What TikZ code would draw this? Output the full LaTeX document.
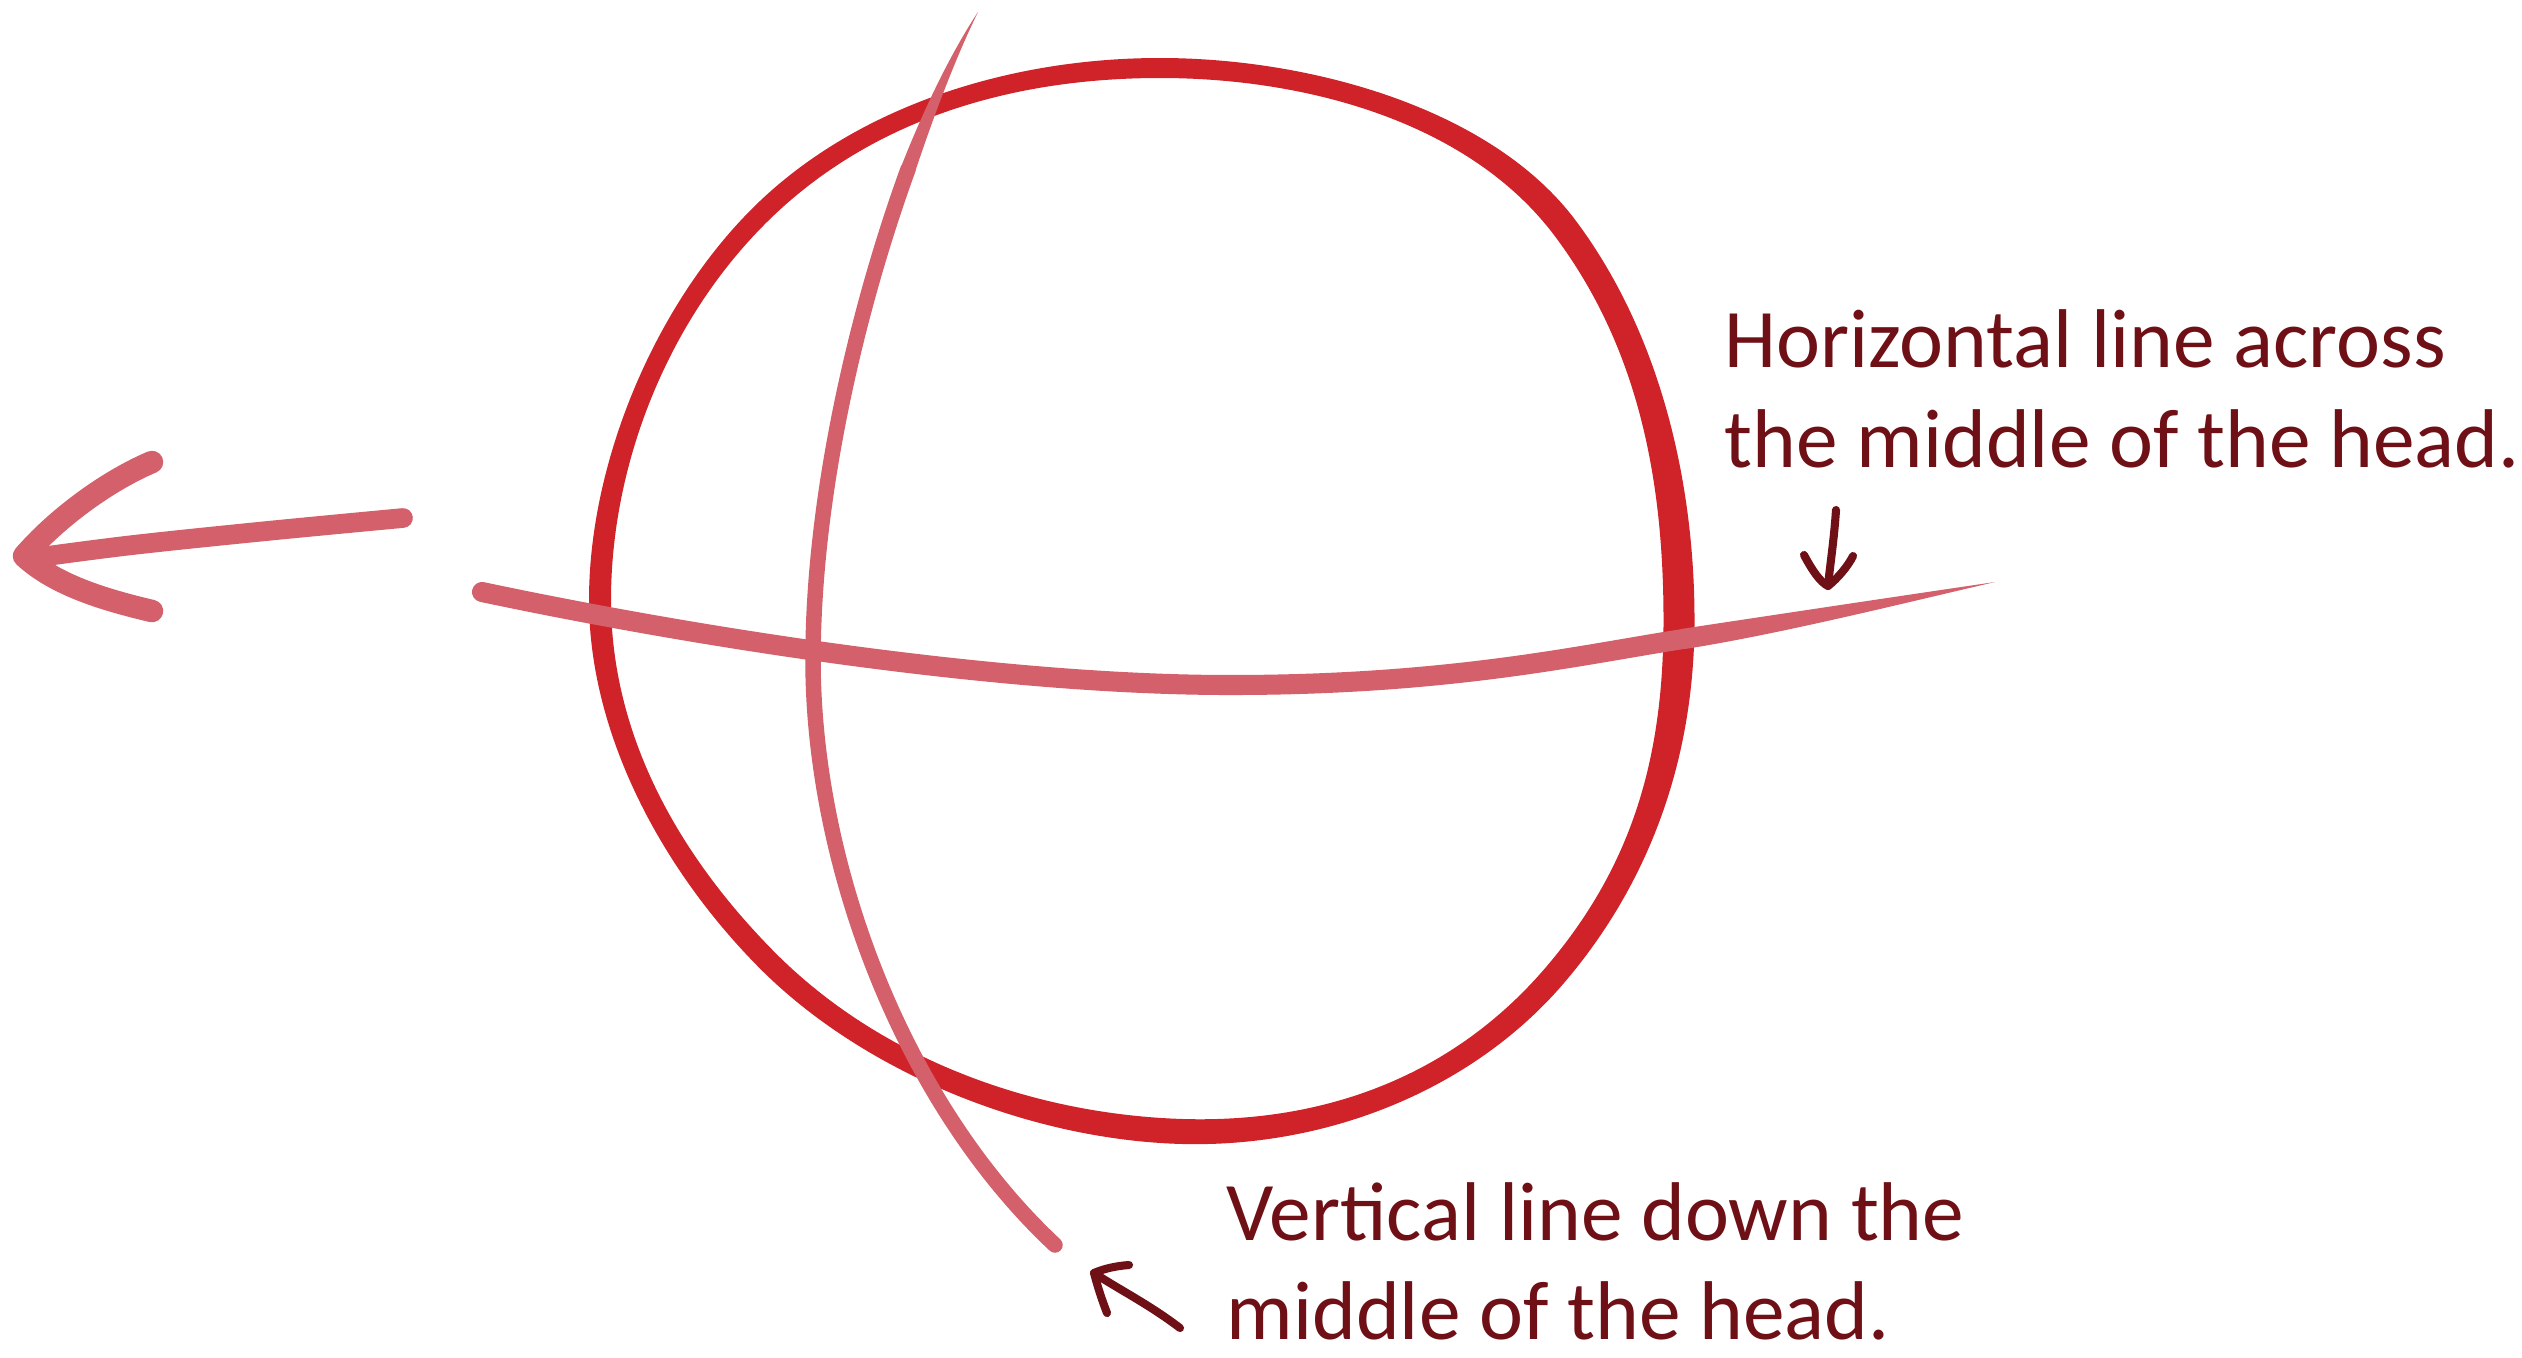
\documentclass[tikz,border=0pt]{standalone}
\usepackage{fontspec}
\setmainfont{Carlito}
\definecolor{headred}{HTML}{D02229}
\definecolor{guide}{HTML}{D3606A}
\definecolor{ink}{HTML}{6E1016}
\tikzset{
  lbl/.style={text=ink, font=\fontsize{23.7}{28}\selectfont, inner sep=0pt, anchor=base west},
  guidestroke/.style={draw=guide, line cap=round, line join=round},
  inkarrow/.style={draw=ink, line width=2.3pt, line cap=round, line join=round}
}
\begin{document}
\begin{tikzpicture}[x=0.01cm,y=-0.01cm]
\useasboundingbox[fill=white] (0,0) rectangle (2522,1357);

% head circle: ring between an outer and an inner closed curve
\fill[headred, even odd rule]
 (1160,58) .. controls (1310,58) and (1491.4,108.2) .. (1575.4,220.2)
 .. controls (1659.4,332.2) and (1694.5,480) .. (1694.5,620)
 .. controls (1694.5,755) and (1652.1,879.8) .. (1564.1,982.8)
 .. controls (1470.1,1092.8) and (1319.4,1151) .. (1169.4,1143.5)
 .. controls (1019.4,1136) and (858.2,1068.7) .. (757.2,965.7)
 .. controls (662.7,869.7) and (589,735) .. (589,600)
 .. controls (589,460) and (657.1,299.8) .. (758.1,202.8)
 .. controls (859.1,105.8) and (1010,58) .. (1160,58) -- cycle
 (1160,78) .. controls (1310,78) and (1470.6,123.8) .. (1554.6,235.8)
 .. controls (1638.6,347.8) and (1663.5,480) .. (1663.5,620)
 .. controls (1663.5,755) and (1633.9,864.2) .. (1545.9,967.2)
 .. controls (1451.9,1077.2) and (1320.6,1126) .. (1170.6,1118.5)
 .. controls (1020.6,1111) and (873.8,1053.3) .. (772.8,950.3)
 .. controls (678.3,854.3) and (611,735) .. (611,600)
 .. controls (611,460) and (670.9,314.2) .. (771.9,217.2)
 .. controls (872.9,120.2) and (1010,78) .. (1160,78) -- cycle;

% horizontal guide line
\draw[guidestroke, line width=5.7pt] (482,592) .. controls (700,638) and (1000,685) .. (1230,685)
  .. controls (1450,685) and (1580,655) .. (1683,639);
\fill[guide] (1681,629) .. controls (1780,614) and (1900,596) .. (1995,582)
  .. controls (1900,604) and (1780,634) .. (1685,649) -- cycle;

% vertical guide line
\fill[guide] (901,167) .. controls (925,106) and (951.6,52) .. (978,12)
  .. controls (957,55) and (936,109) .. (915,172) -- cycle;
\draw[guidestroke, line width=4.4pt] (908,169.3) .. controls (855.6,313.5) and (813,499) .. (813,660)
  .. controls (813,860) and (900,1100) .. (1055,1245);

% left arrow
\draw[guidestroke, line width=5.6pt] plot[smooth, tension=0.6] coordinates {
 (403,518) (267,531) (133,545) (40,557)};
\coordinate (tipL) at (24,556);
\draw[guidestroke, line width=6.4pt] (152,462) .. controls (105,482) and (55,520) .. (tipL)
  .. controls (55,585) and (105,600) .. (152,611);

% labels
\node[lbl] (h1) at (1724,367) {Horizontal line across};
\node[lbl] (h2) at (1724,467) {the middle of the head.};
\node[lbl] (v1) at (1226,1240) {Vertical line down the};
\node[lbl] (v2) at (1226,1339) {middle of the head.};

% small pointer arrows
\coordinate (a1s) at (1836,510);
\coordinate (a1t) at (1828,586);
\draw[inkarrow] (a1s) .. controls (1834,540) and (1830,565) .. (a1t);
\draw[inkarrow] (1804,555) .. controls (1812,570) and (1820,582) .. (a1t)
  .. controls (1838,578) and (1848,566) .. (1853,556);

\coordinate (a2s) at (1180,1328);
\coordinate (a2t) at (1094,1273);
\draw[inkarrow] (a2s) .. controls (1150,1305) and (1120,1290) .. (a2t);
\draw[inkarrow] (1129,1265) .. controls (1115,1266) and (1103,1269) .. (a2t)
  .. controls (1098,1288) and (1102,1300) .. (1107,1313);
\end{tikzpicture}
\end{document}
